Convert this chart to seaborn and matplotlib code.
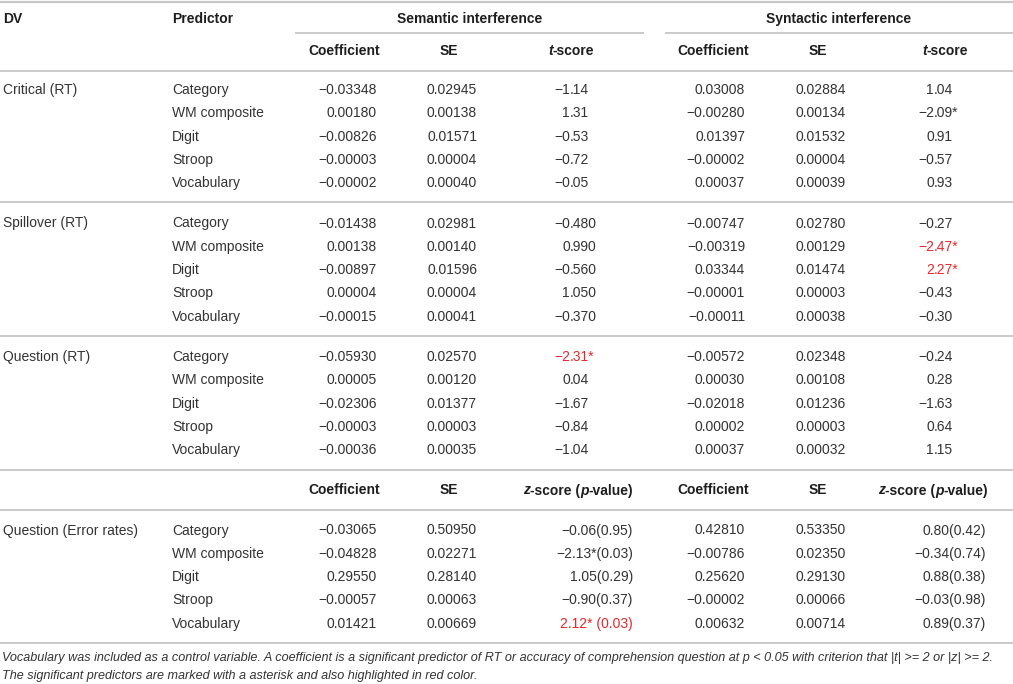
import numpy as np
import seaborn as sns
import matplotlib
matplotlib.use("Agg")
import matplotlib.pyplot as plt

# table content
dv_groups = ["Critical (RT)", "Spillover (RT)", "Question (RT)", "Question (Error rates)"]
predictors = ["Category", "WM composite", "Digit", "Stroop", "Vocabulary"]

sem_coef = [[-0.03348, 0.00180, -0.00826, -0.00003, -0.00002],
            [-0.01438, 0.00138, -0.00897, 0.00004, -0.00015],
            [-0.05930, 0.00005, -0.02306, -0.00003, -0.00036],
            [-0.03065, -0.04828, 0.29550, -0.00057, 0.01421]]
sem_se = [[0.02945, 0.00138, 0.01571, 0.00004, 0.00040],
          [0.02981, 0.00140, 0.01596, 0.00004, 0.00041],
          [0.02570, 0.00120, 0.01377, 0.00003, 0.00035],
          [0.50950, 0.02271, 0.28140, 0.00063, 0.00669]]
sem_score = [["−1.14", "1.31", "−0.53", "−0.72", "−0.05"],
             ["−0.480", "0.990", "−0.560", "1.050", "−0.370"],
             ["−2.31*", "0.04", "−1.67", "−0.84", "−1.04"],
             ["−0.06(0.95)", "−2.13*(0.03)", "1.05(0.29)", "−0.90(0.37)", "2.12* (0.03)"]]
syn_coef = [[0.03008, -0.00280, 0.01397, -0.00002, 0.00037],
            [-0.00747, -0.00319, 0.03344, -0.00001, -0.00011],
            [-0.00572, 0.00030, -0.02018, 0.00002, 0.00037],
            [0.42810, -0.00786, 0.25620, -0.00002, 0.00632]]
syn_se = [[0.02884, 0.00134, 0.01532, 0.00004, 0.00039],
          [0.02780, 0.00129, 0.01474, 0.00003, 0.00038],
          [0.02348, 0.00108, 0.01236, 0.00003, 0.00032],
          [0.53350, 0.02350, 0.29130, 0.00066, 0.00714]]
syn_score = [["1.04", "−2.09*", "0.91", "−0.57", "0.93"],
             ["−0.27", "−2.47*", "2.27*", "−0.43", "−0.30"],
             ["−0.24", "0.28", "−1.63", "0.64", "1.15"],
             ["0.80(0.42)", "−0.34(0.74)", "0.88(0.38)", "−0.03(0.98)", "0.89(0.37)"]]
# cells highlighted in red: (group, row, side)
red_cells = [(1, 1, "syn"), (1, 2, "syn"), (2, 0, "sem"), (3, 4, "sem")]

footnote = ["Vocabulary was included as a control variable. A coefficient is a significant predictor of RT "
            "or accuracy of comprehension question at p < 0.05 with criterion that |t| >= 2 or |z| >= 2.",
            "The significant predictors are marked with a asterisk and also highlighted in red color."]

sns.set_theme(style="white")
plt.rcParams['font.family'] = ['Liberation Sans', 'DejaVu Sans']

TXT = "#333333"
HDR = "#1e1e1e"
RED = "#e8262c"
LINE = "#c6c6c6"
FS = 10

fig = plt.figure(figsize=(10.13, 6.84), dpi=100)
ax = fig.add_axes([0, 0, 1, 1])
ax.set_xlim(0, 1013)
ax.set_ylim(684, 0)
ax.axis("off")
renderer = fig.canvas.get_renderer()


def fmt(v):
    return f"{v:.5f}".replace("-", "−")


def rich(x, y, parts, ha="center"):
    # parts: list of (text, style)
    objs = []
    widths = []
    for s, style in parts:
        t = ax.text(0, y, s, fontsize=FS, fontweight="bold", fontstyle=style,
                    color=HDR, va="center", ha="left")
        bb = t.get_window_extent(renderer)
        objs.append(t)
        widths.append(bb.width)
    total = sum(widths)
    x0 = x - total / 2 if ha == "center" else (x - total if ha == "right" else x)
    for t, w in zip(objs, widths):
        t.set_x(x0)
        x0 += w


def hline(y, x0=0, x1=1013, lw=1.3):
    ax.plot([x0, x1], [y, y], color=LINE, lw=lw, solid_capstyle="butt")


# column positions (pixels)
x_dv, x_pred = 3, 172
sem_coef_r, sem_se_r, sem_dot, sem_z_r = 377, 477, 570, 633
syn_coef_r, syn_se_r, syn_dot, syn_z_r = 745, 846, 934, 986

# header block
hline(1.5, lw=1.6)
ax.text(x_dv, 19, "DV", fontsize=FS, fontweight="bold", color=HDR, va="center")
ax.text(x_pred, 19, "Predictor", fontsize=FS, fontweight="bold", color=HDR, va="center")
ax.text(470, 19, "Semantic interference", fontsize=FS, fontweight="bold", color=HDR,
        va="center", ha="center")
ax.text(839, 19, "Syntactic interference", fontsize=FS, fontweight="bold", color=HDR,
        va="center", ha="center")
hline(33, 295, 644)
hline(33, 665, 1013)
for xc in (344, 713):
    rich(xc, 51, [("Coefficient", "normal")])
for xc in (449, 818):
    rich(xc, 51, [("SE", "normal")])
for xc in (571, 945):
    rich(xc, 51, [("t", "italic"), ("-score", "normal")])
hline(70.5)

group_top = [90, 223.5, 357, 530.5]
row_h = 23.3
lines_after = [202, 336, 470]

rich(344, 490.5, [("Coefficient", "normal")])
rich(449, 490.5, [("SE", "normal")])
rich(713, 490.5, [("Coefficient", "normal")])
rich(818, 490.5, [("SE", "normal")])
for xr in (sem_z_r, syn_z_r + 2):
    rich(xr, 490.5, [("z", "italic"), ("-score (", "normal"), ("p", "italic"),
                     ("-value)", "normal")], ha="right")
hline(510)


def score_cell(s, y, dot_x, z_r, color):
    if "(" in s:
        ax.text(z_r, y, s, fontsize=FS, color=color, va="center", ha="right")
        return
    star = s.endswith("*")
    num = s.rstrip("*")
    ip, fp = num.split(".")
    ax.text(dot_x, y, ip, fontsize=FS, color=color, va="center", ha="right")
    ax.text(dot_x, y, "." + fp + ("*" if star else ""), fontsize=FS, color=color,
            va="center", ha="left")


for g, dv in enumerate(dv_groups):
    y0 = group_top[g]
    ax.text(x_dv, y0, dv, fontsize=FS, color=TXT, va="center")
    for i, p in enumerate(predictors):
        y = y0 + i * row_h
        ax.text(x_pred, y, p, fontsize=FS, color=TXT, va="center")
        ax.text(sem_coef_r, y, fmt(sem_coef[g][i]), fontsize=FS, color=TXT, va="center", ha="right")
        ax.text(sem_se_r, y, fmt(sem_se[g][i]), fontsize=FS, color=TXT, va="center", ha="right")
        ax.text(syn_coef_r, y, fmt(syn_coef[g][i]), fontsize=FS, color=TXT, va="center", ha="right")
        ax.text(syn_se_r, y, fmt(syn_se[g][i]), fontsize=FS, color=TXT, va="center", ha="right")
        c_sem = RED if (g, i, "sem") in red_cells else TXT
        c_syn = RED if (g, i, "syn") in red_cells else TXT
        score_cell(sem_score[g][i], y, sem_dot, sem_z_r, c_sem)
        score_cell(syn_score[g][i], y, syn_dot, syn_z_r, c_syn)
    if g < 3:
        hline(lines_after[g])

hline(642.5)
ax.text(2, 658.5, footnote[0], fontsize=9.1, fontstyle="italic", color=TXT, va="center")
ax.text(2, 676, footnote[1], fontsize=9.1, fontstyle="italic", color=TXT, va="center")

fig.savefig("out.png", dpi=100)
